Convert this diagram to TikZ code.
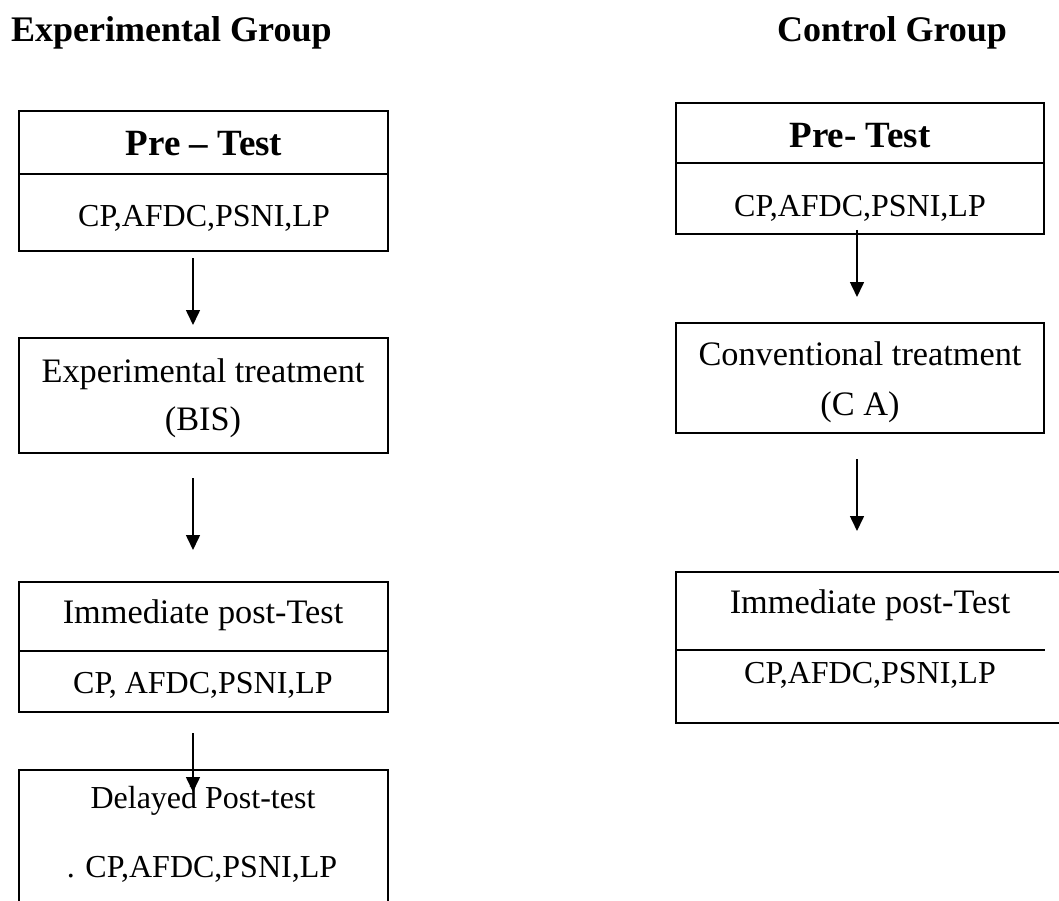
\documentclass[tikz,border=0pt]{standalone}
\usepackage{fontspec}
\setmainfont{Liberation Serif}
\usetikzlibrary{arrows.meta}
\begin{document}
\begin{tikzpicture}[x=1pt,y=-1pt,
 frame/.style={draw, line width=1.6pt, inner sep=0pt, outer sep=0pt, anchor=north west},
 arr/.style={line width=1.6pt, -{Triangle[width=14pt,length=15pt]}},
 lbl/.style={inner sep=0pt, anchor=base},
 hd/.style={lbl, font=\bfseries\fontsize{37}{44}\selectfont},
 ttl/.style={inner sep=0pt, anchor=base west, font=\bfseries\fontsize{36}{43}\selectfont},
 big/.style={lbl, font=\fontsize{34.3}{41}\selectfont},
 sml/.style={lbl, font=\fontsize{32}{38}\selectfont}]
\useasboundingbox (0,0) rectangle (1059,901);
\fill[white] (0,0) rectangle (1059,901);

% titles
\node[ttl] (tE) at (11,42) {Experimental Group};
\node[ttl] (tC) at (777,42) {Control Group};

% experimental column boxes
\node[frame, minimum width=369pt, minimum height=63pt] (preEa) at (19,111) {};
\node[frame, minimum width=369pt, minimum height=77pt] (preEb) at (19,174) {};
\node[frame, minimum width=369pt, minimum height=115pt] (treatE) at (19,338) {};
\node[frame, minimum width=369pt, minimum height=69pt] (immEa) at (19,582) {};
\node[frame, minimum width=369pt, minimum height=61pt] (immEb) at (19,651) {};
\node[frame, minimum width=369pt, minimum height=170pt] (delE) at (19,770) {};

% control column boxes
\node[frame, minimum width=368pt, minimum height=60pt] (preCa) at (676,103) {};
\node[frame, minimum width=368pt, minimum height=71pt] (preCb) at (676,163) {};
\node[frame, minimum width=368pt, minimum height=110pt] (treatC) at (676,323) {};
\node[frame, minimum width=420pt, minimum height=151pt] (immC) at (676,572) {};
\coordinate (dvL) at (676,650);
\coordinate (dvR) at (1045,650);
\draw[line width=1.6pt] (dvL) -- (dvR);

% texts experimental
\node[hd] (preEt) at (204,156) {Pre – Test};
\node[sml] (preEm) at (204,227) {CP,AFDC,PSNI,LP};
\node[big] (treatEt) at (203,382) {Experimental treatment};
\node[big] (treatEs) at (203,430) {(BIS)};
\node[big] (immEt) at (203,623) {Immediate post-Test};
\node[sml] (immEm) at (203,693) {CP, AFDC,PSNI,LP};
\node[sml] (delEt) at (203,808) {Delayed Post-test};
\node[sml] (delEm) at (202,877) {. CP,AFDC,PSNI,LP};

% texts control
\node[hd] (preCt) at (860,148) {Pre- Test};
\node[sml] (preCm) at (860,217) {CP,AFDC,PSNI,LP};
\node[big] (treatCt) at (860,365) {Conventional treatment};
\node[big] (treatCs) at (860,415) {(C A)};
\node[big] (immCt) at (870,613) {Immediate post-Test};
\node[sml] (immCm) at (870,683) {CP,AFDC,PSNI,LP};

% arrows experimental
\coordinate (e1s) at (193,258); \coordinate (e1e) at (193,325);
\coordinate (e2s) at (193,478); \coordinate (e2e) at (193,550);
\coordinate (e3s) at (193,733); \coordinate (e3e) at (193,792);
\draw[arr] (e1s) -- (e1e);
\draw[arr] (e2s) -- (e2e);
\draw[arr] (e3s) -- (e3e);

% arrows control
\coordinate (c1s) at (857,230); \coordinate (c1e) at (857,297);
\coordinate (c2s) at (857,459); \coordinate (c2e) at (857,531);
\draw[arr] (c1s) -- (c1e);
\draw[arr] (c2s) -- (c2e);
\end{tikzpicture}
\end{document}
